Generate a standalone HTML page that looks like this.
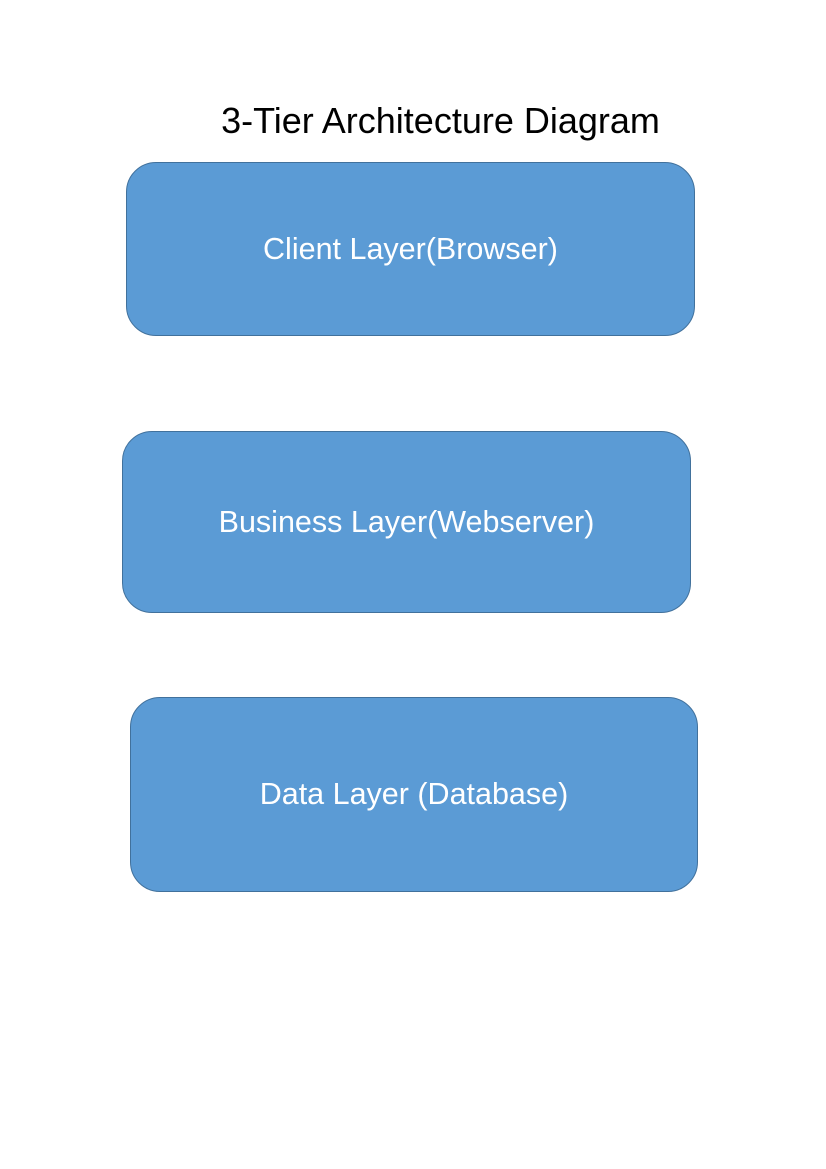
<!DOCTYPE html>
<html><head><meta charset="utf-8"><style>
body{margin:0;width:826px;height:1169px;background:#fff;position:relative;font-family:"Liberation Sans",sans-serif;overflow:hidden}
.t{position:absolute;left:0;width:881px;top:99px;text-align:center;font-size:36px;color:#000;line-height:44px}
.b{position:absolute;background:#5b9bd5;border:1.5px solid #41719c;border-radius:30px;color:#fff;font-size:30.5px;display:flex;align-items:center;justify-content:center;box-sizing:border-box}
</style></head><body>
<div class="t">3-Tier Architecture Diagram</div>
<div class="b" style="left:126px;top:162px;width:569px;height:174px">Client Layer(Browser)</div>
<div class="b" style="left:122px;top:431px;width:569px;height:182px">Business Layer(Webserver)</div>
<div class="b" style="left:130px;top:697px;width:568px;height:195px">Data Layer (Database)</div>
</body></html>
